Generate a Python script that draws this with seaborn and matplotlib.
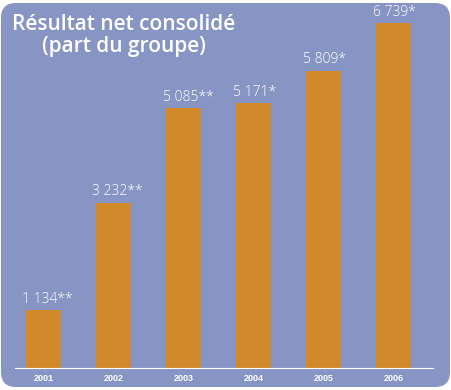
import matplotlib
matplotlib.use('Agg')
import matplotlib.pyplot as plt
from matplotlib.patches import FancyBboxPatch
import seaborn as sns
import pandas as pd

years = ['2001', '2002', '2003', '2004', '2005', '2006']
values = [1134, 3232, 5085, 5171, 5809, 6739]
labels = ['1 134**', '3 232**', '5 085**', '5 171*', '5 809*', '6 739*']
title = 'Résultat net consolidé\n(part du groupe)'

panel_col = '#8795c4'
bar_col = '#d2892a'

sns.set_style('white')
plt.rcParams['font.family'] = ['Open Sans', 'DejaVu Sans']

fig = plt.figure(figsize=(4.52, 3.90), dpi=100)
fig.patch.set_facecolor('white')

# rounded panel behind everything, drawn in pixel units
bg = fig.add_axes([0, 0, 1, 1])
bg.set_xlim(0, 452)
bg.set_ylim(0, 390)
bg.axis('off')
bg.add_patch(FancyBboxPatch((16, 18), 452 - 33, 390 - 36,
                            boxstyle='round,pad=15', fc=panel_col, ec='none'))
bg.text(124, 376, title, ha='center', va='top', color='white',
        fontsize=15, fontweight='semibold', linespacing=1.05)

df = pd.DataFrame({'year': years, 'value': values})

ax = fig.add_axes([15 / 452, 22 / 390, 418 / 452, 0.919])
ax.patch.set_alpha(0)
sns.barplot(data=df, x='year', y='value', color=bar_col, saturation=1,
            width=0.5, linewidth=0, edgecolor='none', ax=ax)
ax.set_xlim(-0.407, 5.564)
ax.set_ylim(0, 7000)
for i, (v, lab) in enumerate(zip(values, labels)):
    ax.text(i - 0.3, v + 60, lab, ha='left', va='bottom', color='white',
            fontsize=10, fontweight='light')

for s in ['top', 'right', 'left']:
    ax.spines[s].set_visible(False)
ax.spines['bottom'].set_color('white')
ax.spines['bottom'].set_linewidth(0.8)
ax.set_yticks([])
ax.set_xlabel('')
ax.set_ylabel('')
ax.tick_params(axis='x', length=0, pad=4, labelsize=6.5, colors='white')
for t in ax.get_xticklabels():
    t.set_fontweight('bold')
    t.set_family(['Liberation Sans', 'DejaVu Sans'])

fig.savefig('out.png', dpi=100)
